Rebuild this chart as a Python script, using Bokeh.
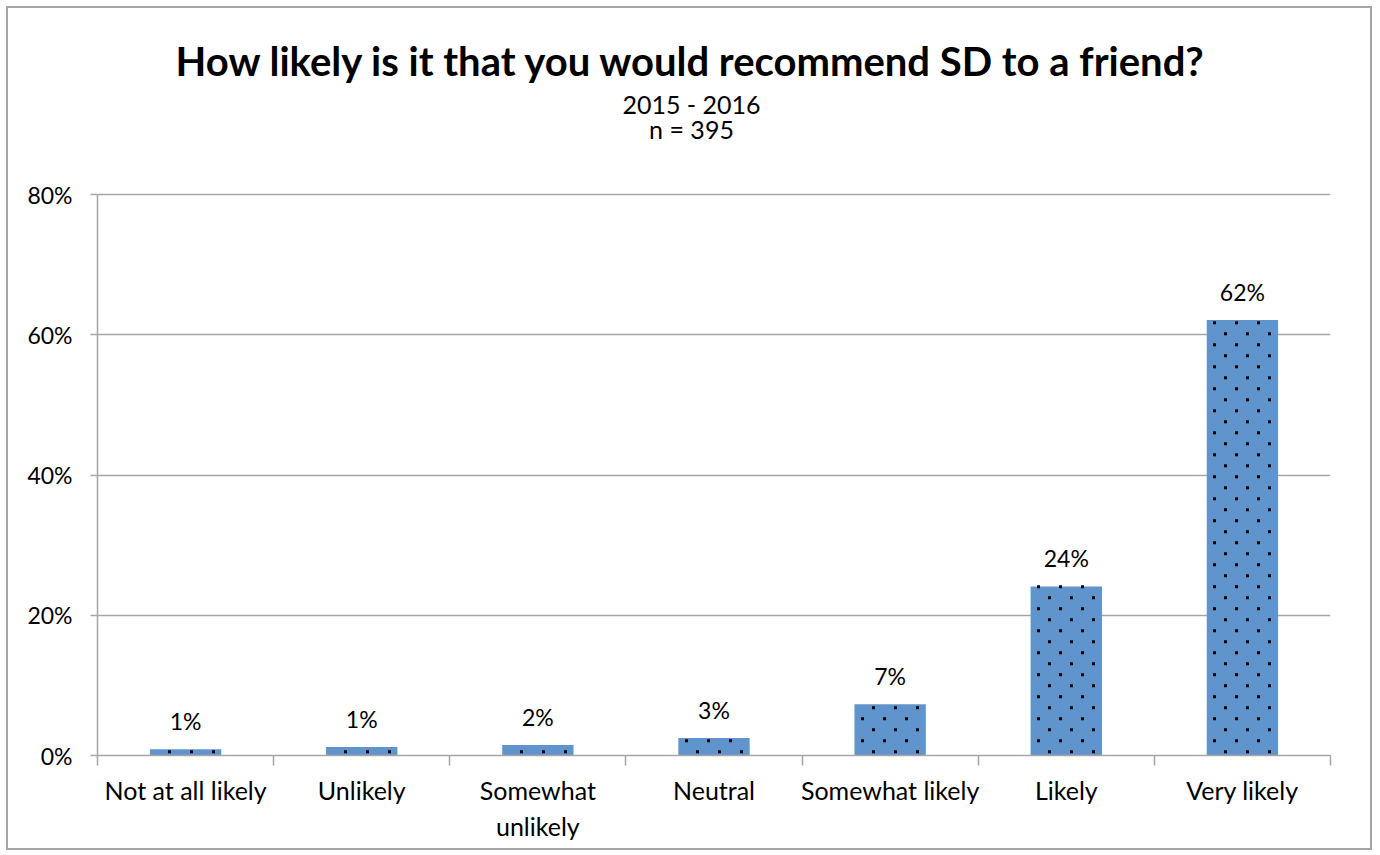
from bokeh.plotting import figure
from bokeh.models import FixedTicker, NumeralTickFormatter, Range1d, ColumnDataSource
from bokeh.core.properties import value
from bokeh.embed import file_html
from bokeh.resources import INLINE

# ---- data ----
categories = ["Not at all likely", "Unlikely", "Somewhat\nunlikely", "Neutral",
              "Somewhat likely", "Likely", "Very likely"]
shares = [0.009, 0.012, 0.015, 0.025, 0.073, 0.241, 0.621]
share_labels = ["1%", "1%", "2%", "3%", "7%", "24%", "62%"]
y_ticks = [0.0, 0.2, 0.4, 0.6, 0.8]
title_text = "How likely is it that you would recommend SD to a friend?"
subtitle_lines = ["2015 - 2016", "n = 395"]

# ---- layout / style constants (pixels) ----
FONT = "Lato"
GRAY = "#a6a6a6"
BAR_COLOR = "#6094cc"
BAR_WIDTH = 0.405
OFFSET = 8                      # canvas offset inside the page (border + margin)
CANVAS_W, CANVAS_H = 1366, 844
FRAME_L, FRAME_R, FRAME_B, AXIS_TOP = 97, 1330, 755, 194   # page pixels
TITLE_CENTER_X = 691
TITLE_ANCHORS = [60, 103, 128]  # text anchor rows for title, subtitle lines
DOT_DX, DOT_DY = 22, 11         # dotted fill pattern spacing
DOT_X0, DOT_Y0 = 697, 751.3     # pattern phase

n = len(categories)
px_x = (FRAME_R - FRAME_L) / n                  # pixels per category
px_y = (FRAME_B - AXIS_TOP) / y_ticks[-1]       # pixels per unit share
y_end = (FRAME_B - OFFSET) / px_y               # frame reaches the top of the canvas

positions = [i + 0.5 for i in range(n)]
boundaries = list(range(n + 1))
src = ColumnDataSource(dict(x=positions, top=shares, lab=share_labels))

# dotted pattern: lattice anchored to the chart, kept inside each bar
dot_x, dot_y = [], []
for pos, share in zip(positions, shares):
    left = FRAME_L + (pos - BAR_WIDTH / 2) * px_x
    right = FRAME_L + (pos + BAR_WIDTH / 2) * px_x
    top = FRAME_B - share * px_y
    r = 0
    while DOT_Y0 - DOT_DY * r >= top - 1:
        yy = DOT_Y0 - DOT_DY * r
        x0 = DOT_X0 - (DOT_DX / 2) * (r % 2)
        k0 = int((left - x0) // DOT_DX) - 1
        for k in range(k0, k0 + 12):
            xx = x0 + DOT_DX * k
            if left - 0.5 <= xx <= right + 0.5:
                dot_x.append((xx - FRAME_L) / px_x)
                dot_y.append((FRAME_B - yy) / px_y)
        r += 1

p = figure(width=CANVAS_W, height=CANVAS_H, output_backend="svg", toolbar_location=None,
           x_range=Range1d(0, n), y_range=Range1d(0, y_end),
           min_border_left=FRAME_L - OFFSET, min_border_right=OFFSET + CANVAS_W - FRAME_R,
           min_border_top=0, min_border_bottom=OFFSET + CANVAS_H - FRAME_B)
p.styles = {"border": "2px solid #a6a6a6", "margin-left": "6px", "margin-top": "6px"}
p.outline_line_color = None
p.background_fill_color = "white"
p.border_fill_color = "white"

p.vbar(x="x", top="top", bottom=0, width=BAR_WIDTH, source=src,
       fill_color=BAR_COLOR, line_color=None)
p.scatter(dot_x, dot_y, marker="square", size=3, fill_color="black", line_color=None)

p.text(x="x", y="top", text="lab", source=src, text_align="center",
       text_baseline="alphabetic", y_offset=-28, text_font=value(FONT),
       text_font_size="23px", text_color="black")

# titles
title_x = (TITLE_CENTER_X - FRAME_L) / px_x
title_y = [(FRAME_B - b) / px_y for b in TITLE_ANCHORS]
p.text(x=[title_x], y=[title_y[0]], text=[title_text], text_align="center",
       text_baseline="alphabetic", text_font=value(FONT), text_font_style="bold",
       text_font_size="40px", text_color="black")
p.text(x=[title_x, title_x], y=title_y[1:], text=subtitle_lines, text_align="center",
       text_baseline="alphabetic", text_font=value(FONT), text_font_size="25px",
       text_color="black")

# x axis
xa = p.xaxis[0]
xa.ticker = FixedTicker(ticks=positions, minor_ticks=boundaries)
xa.major_label_overrides = {pos: cat for pos, cat in zip(positions, categories)}
xa.major_tick_out = 0
xa.major_tick_in = 0
xa.minor_tick_out = 10
xa.minor_tick_in = 0
xa.minor_tick_line_color = GRAY
xa.minor_tick_line_width = 1.5
xa.axis_line_color = GRAY
xa.axis_line_width = 1.5
xa.major_label_standoff = 9
xa.major_label_text_font = FONT
xa.major_label_text_font_size = "25px"
xa.major_label_text_color = "black"

# y axis
ya = p.yaxis[0]
ya.ticker = FixedTicker(ticks=y_ticks)
ya.bounds = (y_ticks[0], y_ticks[-1])
ya.formatter = NumeralTickFormatter(format="0%")
ya.major_tick_out = 7
ya.major_tick_in = 0
ya.major_tick_line_color = GRAY
ya.major_tick_line_width = 1.5
ya.axis_line_color = GRAY
ya.axis_line_width = 1.5
ya.major_label_standoff = 18
ya.major_label_text_font = FONT
ya.major_label_text_font_size = "23px"
ya.major_label_text_color = "black"

p.xgrid.visible = False
p.ygrid.grid_line_color = GRAY
p.ygrid.grid_line_width = 1.5

open("out.html", "w").write(file_html(p, INLINE))
